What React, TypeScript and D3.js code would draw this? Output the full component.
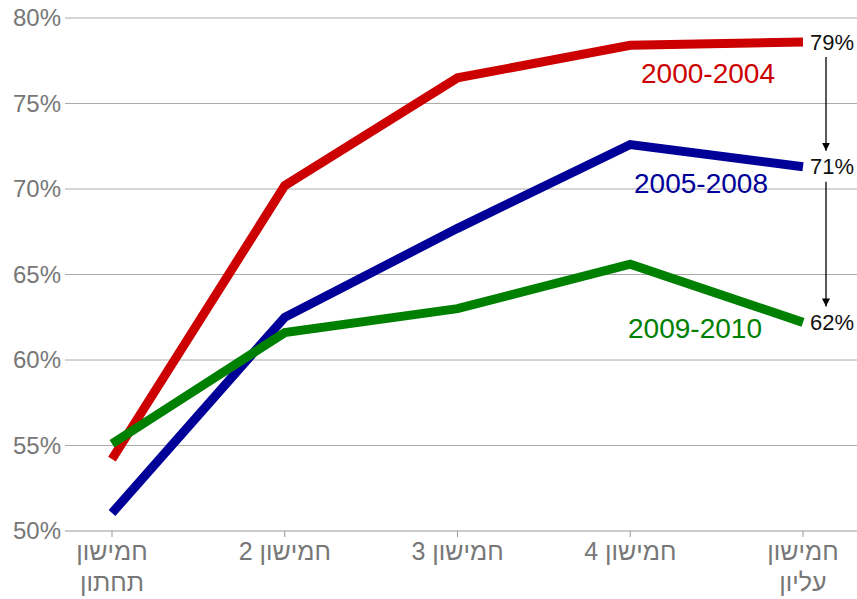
import React from "react";
import * as d3 from "d3";

const categories = ["חמישון תחתון", "חמישון 2", "חמישון 3", "חמישון 4", "חמישון עליון"];
const series2000 = [54.2, 70.2, 76.5, 78.4, 78.6];
const series2005 = [51.05, 62.5, 67.7, 72.6, 71.3];
const series2009 = [55.1, 61.6, 63.0, 65.6, 62.2];
const seriesNames = ["2000-2004", "2005-2008", "2009-2010"];
const yTicks = [50, 55, 60, 65, 70, 75, 80];
const endLabels = ["79%", "71%", "62%"];

const W = 857, H = 599;

export default function App() {
  const x = d3.scalePoint<number>().domain(d3.range(categories.length)).range([112, 803]);
  const y = d3.scaleLinear().domain([50, 80]).range([531, 18]);
  const line = d3.line<number>().x((_, i) => x(i) as number).y((d) => y(d));
  const colors = ["#cc0000", "#000099", "#008000"];
  const data = [series2000, series2005, series2009];
  const labelPos = [
    { x: 708, y: 83 },
    { x: 701, y: 193 },
    { x: 695, y: 338 },
  ];
  const font = "'Liberation Sans', Arial, sans-serif";
  const lastX = x(categories.length - 1) as number;
  const endY = data.map((s) => y(s[s.length - 1]));
  return (
    <svg width={W} height={H} style={{ position: "absolute", left: 0, top: 0 }} fontFamily={font}>
      <defs>
        <marker id="ah" viewBox="0 0 10 10" refX="10" refY="5" markerWidth="8" markerHeight="8" orient="auto" markerUnits="userSpaceOnUse">
          <path d="M0,0 L10,5 L0,10 z" fill="#000" />
        </marker>
      </defs>
      {yTicks.map((t) => (
        <g key={t}>
          <line x1={65} x2={857} y1={y(t)} y2={y(t)} stroke={t === 50 ? "#999" : "#aaa"} strokeWidth={1} />
          <text x={61} y={y(t)} dy="0.35em" textAnchor="end" fill="#777" fontSize={24}>{t}%</text>
        </g>
      ))}
      {categories.map((c, i) => {
        const words = c.split(" ");
        const isNum = words.length === 2 && /\d/.test(words[1]);
        const lines = isNum ? [c] : words;
        return (
          <g key={i}>
            <line x1={x(i)} x2={x(i)} y1={531} y2={537} stroke="#999" />
            {lines.map((l, j) => (
              <text key={j} x={x(i)} y={560 + j * 31} textAnchor="middle" direction="rtl" fill="#777" fontSize={25}>{l}</text>
            ))}
          </g>
        );
      })}
      {data.map((s, k) => (
        <path key={k} d={line(s) || ""} fill="none" stroke={colors[k]} strokeWidth={9} />
      ))}
      {seriesNames.map((n, k) => (
        <text key={n} x={labelPos[k].x} y={labelPos[k].y} textAnchor="middle" fill={colors[k]} fontSize={28}>{n}</text>
      ))}
      {endLabels.map((l, k) => (
        <text key={l} x={lastX + 7} y={endY[k]} dy="0.35em" fill="#111" fontSize={22}>{l}</text>
      ))}
      <line x1={826} x2={826} y1={endY[0] + 15} y2={endY[1] - 16} stroke="#000" strokeWidth={1.3} markerEnd="url(#ah)" />
      <line x1={826} x2={826} y1={endY[1] + 15} y2={endY[2] - 16} stroke="#000" strokeWidth={1.3} markerEnd="url(#ah)" />
    </svg>
  );
}
